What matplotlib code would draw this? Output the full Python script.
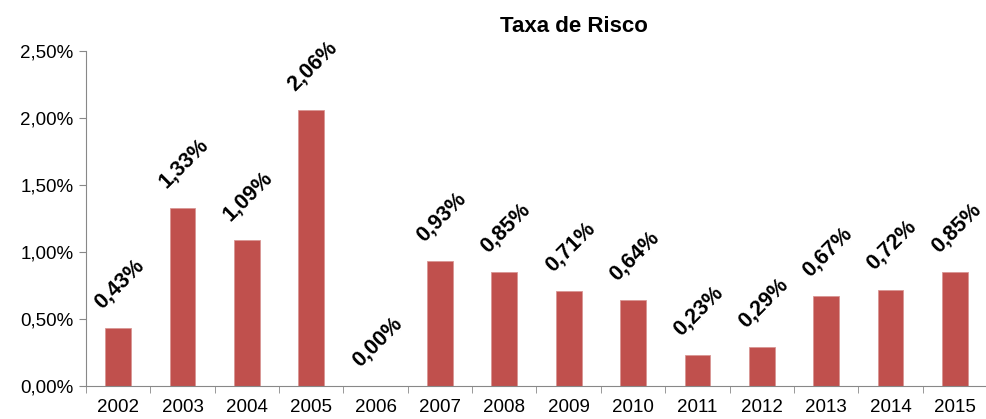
import matplotlib.pyplot as plt
import numpy as np

plt.rcParams['font.family'] = ['Liberation Sans', 'DejaVu Sans']

anos = ['2002', '2003', '2004', '2005', '2006', '2007', '2008',
        '2009', '2010', '2011', '2012', '2013', '2014', '2015']
taxa = [0.43, 1.33, 1.09, 2.06, 0.00, 0.93, 0.85,
        0.71, 0.64, 0.23, 0.29, 0.67, 0.72, 0.85]
yticks = [0.0, 0.5, 1.0, 1.5, 2.0, 2.5]

fig = plt.figure(figsize=(9.87, 4.19), dpi=100)
ax = fig.add_axes([86 / 987, 33 / 419, 1 - 86 / 987, 335 / 419])

x = np.arange(len(anos))
ax.bar(x, taxa, width=0.4, color='#C0504D', edgecolor='#D99694', linewidth=0.6)

for xi, v in zip(x, taxa):
    ax.annotate(('%.2f%%' % v).replace('.', ','), (xi, v), xytext=(1, 11),
                textcoords='offset points', rotation=45, ha='center', va='bottom',
                fontsize=15.5, fontweight='bold', color='black')

ax.set_xlim(-0.5, len(anos) - 0.5)
ax.set_ylim(0, 2.5)
ax.set_yticks(yticks)
ax.set_yticklabels([('%.2f%%' % t).replace('.', ',') for t in yticks], fontsize=13.5)
ax.set_xticks(x)
ax.set_xticklabels(anos, fontsize=13.5)
ax.set_xticks(np.arange(len(anos) + 1) - 0.5, minor=True)
ax.tick_params(axis='x', which='major', length=0, pad=9)
ax.tick_params(axis='x', which='minor', length=5, color='#888888')
ax.tick_params(axis='y', length=5, color='#888888', pad=4)

for s in ['top', 'right']:
    ax.spines[s].set_visible(False)
for s in ['left', 'bottom']:
    ax.spines[s].set_color('#888888')

fig.text(574 / 987, 1 - 27 / 419, 'Taxa de Risco', ha='center', va='center',
         fontsize=16, fontweight='bold')

fig.savefig('out.png', dpi=100)
